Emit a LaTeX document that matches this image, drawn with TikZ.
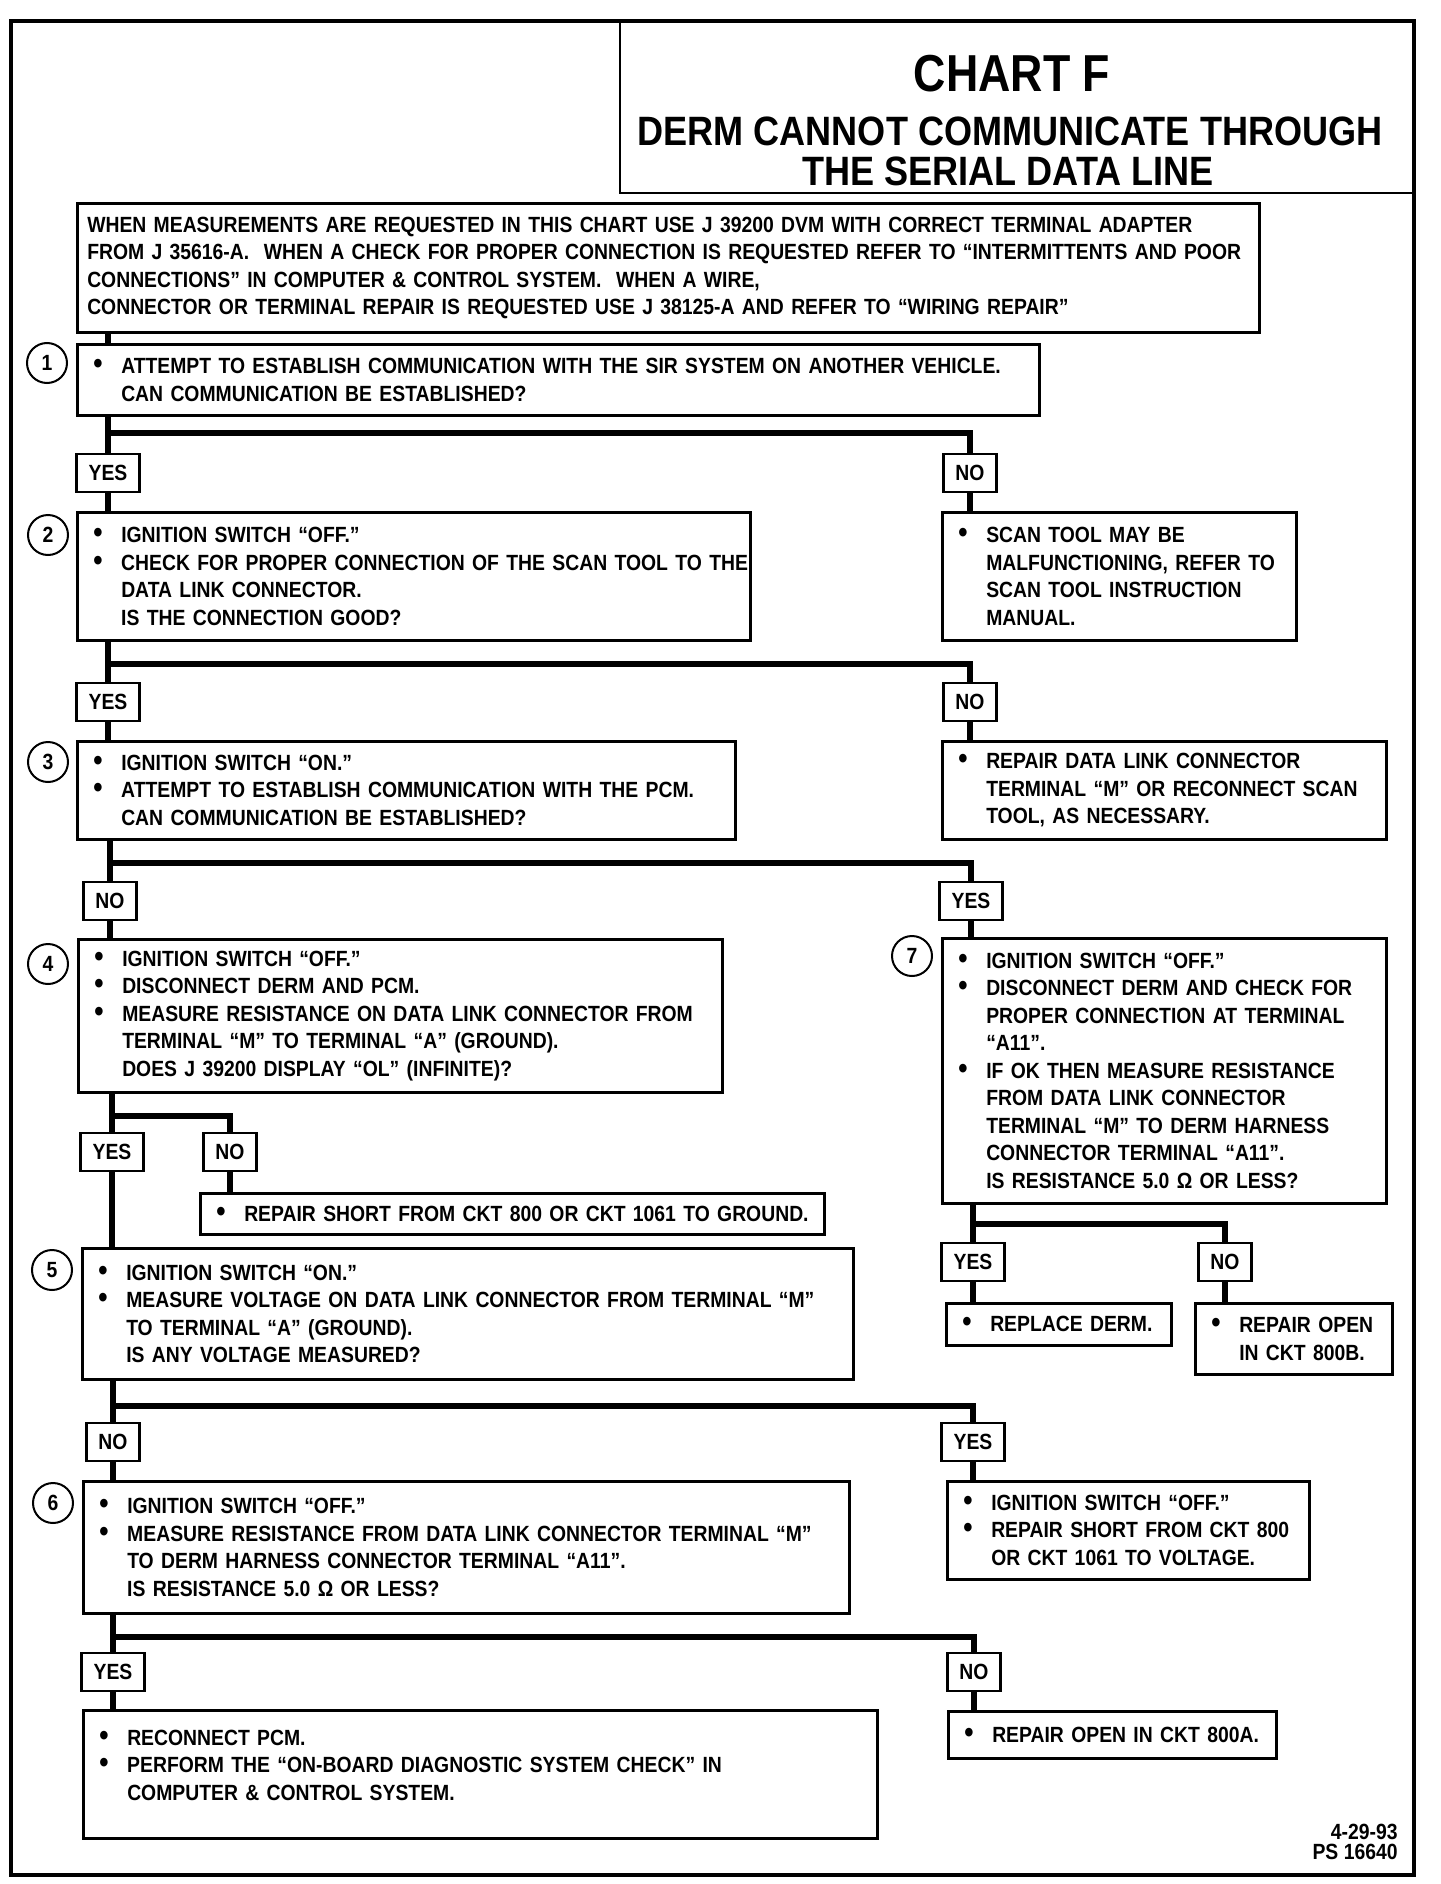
\documentclass[tikz,border=0pt]{standalone}
\usepackage{fontspec}
\newfontfamily\chartfont{Liberation Sans}[FakeStretch=0.88]
\newfontfamily\headfont{Liberation Sans}[FakeStretch=0.86]
\newcommand{\bl}[1]{\mbox{\makebox[14pt][l]{\fontsize{15}{15}\selectfont\textbullet}#1}}
\newcommand{\il}[1]{\mbox{\hspace*{14pt}#1}}
\begin{document}
\begin{tikzpicture}[x=0.5pt,y=-0.5pt,
  txt/.style={font=\chartfont\bfseries\fontsize{11}{13.75}\selectfont},
  box/.style={txt,draw,line width=1.25pt,anchor=north west,align=left,inner xsep=8pt,inner ysep=0pt},
  lbl/.style={txt,draw,line width=1.25pt,inner xsep=6pt,inner ysep=0pt,minimum height=19pt},
  num/.style={txt,draw,circle,line width=1pt,minimum size=20pt,inner sep=0pt},
  flow/.style={line width=3.2pt}]
\useasboundingbox (0,0) rectangle (1440,1884);
\draw[line width=2pt] (11,21) rectangle (1414,1875);
\draw[line width=1.2pt] (620,21) rectangle (1414,193);
\node[anchor=base,font=\headfont\bfseries\fontsize{26}{26}\selectfont] (chart) at (1012,91) {CHART F};
\node[anchor=base,font=\chartfont\bfseries\fontsize{20.5}{20.5}\selectfont] (sub1) at (1010,146) {DERM CANNOT COMMUNICATE THROUGH};
\node[anchor=base,font=\chartfont\bfseries\fontsize{20.5}{20.5}\selectfont] (sub2) at (1008,185) {THE SERIAL DATA LINE};

\node[box,inner xsep=5pt,text width=581pt,minimum height=64.5pt] (intro) at (76,202) {%
\mbox{WHEN MEASUREMENTS ARE REQUESTED IN THIS CHART USE J 39200 DVM WITH CORRECT TERMINAL ADAPTER}\\
\mbox{FROM J 35616-A.\ \ WHEN A CHECK FOR PROPER CONNECTION IS REQUESTED REFER TO “INTERMITTENTS AND POOR}\\
\mbox{CONNECTIONS” IN COMPUTER \& CONTROL SYSTEM.\ \ WHEN A WIRE,}\\
\mbox{CONNECTOR OR TERMINAL REPAIR IS REQUESTED USE J 38125-A AND REFER TO “WIRING REPAIR”}};

\node[box,text width=465pt,minimum height=35.5pt] (b1) at (76,343) {%
\bl{ATTEMPT TO ESTABLISH COMMUNICATION WITH THE SIR SYSTEM ON ANOTHER VEHICLE.}\\
\il{CAN COMMUNICATION BE ESTABLISHED?}};
\node[num] (c1) at (47,363) {1};
\node[lbl] (y1) at (108,473) {YES};
\node[lbl] (n1) at (970,473) {NO};
\coordinate (k1) at (108,433);

\node[box,text width=320.5pt,minimum height=64pt] (b2) at (76,511) {%
\bl{IGNITION SWITCH “OFF.”}\\
\bl{CHECK FOR PROPER CONNECTION OF THE SCAN TOOL TO THE}\\
\il{DATA LINK CONNECTOR.}\\
\il{IS THE CONNECTION GOOD?}};
\node[num] (c2) at (48,535) {2};
\node[box,text width=161pt,minimum height=64pt] (r2) at (941,511) {%
\bl{SCAN TOOL MAY BE}\\
\il{MALFUNCTIONING, REFER TO}\\
\il{SCAN TOOL INSTRUCTION}\\
\il{MANUAL.}};
\node[lbl] (y2) at (108,702) {YES};
\node[lbl] (n2) at (970,702) {NO};
\coordinate (k2) at (108,664);

\node[box,text width=313pt,minimum height=49pt] (b3) at (76,740) {%
\bl{IGNITION SWITCH “ON.”}\\
\bl{ATTEMPT TO ESTABLISH COMMUNICATION WITH THE PCM.}\\
\il{CAN COMMUNICATION BE ESTABLISHED?}};
\node[num] (c3) at (48,762) {3};
\node[box,text width=206pt,minimum height=49pt] (r3) at (941,740) {%
\bl{REPAIR DATA LINK CONNECTOR}\\
\il{TERMINAL “M” OR RECONNECT SCAN}\\
\il{TOOL, AS NECESSARY.}};
\node[lbl] (n3) at (110,901) {NO};
\node[lbl] (y3) at (971,901) {YES};
\coordinate (k3) at (110,863);

\node[box,text width=306pt,minimum height=76.5pt] (b4) at (77,938) {%
\bl{IGNITION SWITCH “OFF.”}\\
\bl{DISCONNECT DERM AND PCM.}\\
\bl{MEASURE RESISTANCE ON DATA LINK CONNECTOR FROM}\\
\il{TERMINAL “M” TO TERMINAL “A” (GROUND).}\\
\il{DOES J 39200 DISPLAY “OL” (INFINITE)?}};
\node[num] (c4) at (48,964) {4};
\node[box,text width=206pt,minimum height=132.5pt] (b7) at (941,937) {%
\bl{IGNITION SWITCH “OFF.”}\\
\bl{DISCONNECT DERM AND CHECK FOR}\\
\il{PROPER CONNECTION AT TERMINAL}\\
\il{“A11”.}\\
\bl{IF OK THEN MEASURE RESISTANCE}\\
\il{FROM DATA LINK CONNECTOR}\\
\il{TERMINAL “M” TO DERM HARNESS}\\
\il{CONNECTOR TERMINAL “A11”.}\\
\il{IS RESISTANCE 5.0 Ω OR LESS?}};
\node[num] (c7) at (912,956) {7};

\node[lbl] (y4) at (112,1152) {YES};
\node[lbl] (n4) at (230,1152) {NO};
\coordinate (k4) at (112,1116);
\node[box,text width=296pt,minimum height=20.5pt] (rs) at (199,1192) {%
\bl{REPAIR SHORT FROM CKT 800 OR CKT 1061 TO GROUND.}};

\node[lbl] (y7) at (973,1262) {YES};
\node[lbl] (n7) at (1225,1262) {NO};
\coordinate (k7) at (973,1224);
\node[box,text width=96.5pt,minimum height=21pt] (rd) at (945,1302) {%
\bl{REPLACE DERM.}};
\node[box,text width=82.5pt,minimum height=35.5pt] (ro) at (1194,1302) {%
\bl{REPAIR OPEN}\\
\il{IN CKT 800B.}};

\node[box,text width=369.5pt,minimum height=65.5pt] (b5) at (81,1247) {%
\bl{IGNITION SWITCH “ON.”}\\
\bl{MEASURE VOLTAGE ON DATA LINK CONNECTOR FROM TERMINAL “M”}\\
\il{TO TERMINAL “A” (GROUND).}\\
\il{IS ANY VOLTAGE MEASURED?}};
\node[num] (c5) at (52,1270) {5};
\node[lbl] (n5) at (113,1442) {NO};
\node[lbl] (y5) at (973,1442) {YES};
\coordinate (k5) at (113,1406);

\node[box,text width=367pt,minimum height=66pt] (b6) at (82,1480) {%
\bl{IGNITION SWITCH “OFF.”}\\
\bl{MEASURE RESISTANCE FROM DATA LINK CONNECTOR TERMINAL “M”}\\
\il{TO DERM HARNESS CONNECTOR TERMINAL “A11”.}\\
\il{IS RESISTANCE 5.0 Ω OR LESS?}};
\node[num] (c6) at (53,1503) {6};
\node[box,text width=165pt,minimum height=49pt] (r6) at (946,1480) {%
\bl{IGNITION SWITCH “OFF.”}\\
\bl{REPAIR SHORT FROM CKT 800}\\
\il{OR CKT 1061 TO VOLTAGE.}};
\node[lbl] (y6) at (113,1672) {YES};
\node[lbl] (n6) at (974,1672) {NO};
\coordinate (k6) at (113,1637);

\node[box,text width=381pt,minimum height=64pt] (bf) at (82,1709) {%
\bl{RECONNECT PCM.}\\
\bl{PERFORM THE “ON-BOARD DIAGNOSTIC SYSTEM CHECK” IN}\\
\il{COMPUTER \& CONTROL SYSTEM.}\rule[-9pt]{0pt}{0pt}};
\node[box,text width=148pt,minimum height=23.5pt] (r7) at (947,1710) {%
\bl{REPAIR OPEN IN CKT 800A.}};

\node[txt,anchor=base east,inner sep=0pt] (date) at (1398,1839) {4-29-93};
\node[txt,anchor=base east,inner sep=0pt] (ps) at (1398,1859) {PS 16640};

\draw[flow] (intro.south -| y1) -- (b1.north -| y1);
\draw[flow] (b1.south -| y1) -- (y1.north);
\draw[flow] (k1) -| (n1.north);
\draw[flow] (y1.south) -- (b2.north -| y1);
\draw[flow] (n1.south) -- (r2.north -| n1);
\draw[flow] (b2.south -| y2) -- (y2.north);
\draw[flow] (k2) -| (n2.north);
\draw[flow] (y2.south) -- (b3.north -| y2);
\draw[flow] (n2.south) -- (r3.north -| n2);
\draw[flow] (b3.south -| n3) -- (n3.north);
\draw[flow] (k3) -| (y3.north);
\draw[flow] (n3.south) -- (b4.north -| n3);
\draw[flow] (y3.south) -- (b7.north -| y3);
\draw[flow] (b4.south -| y4) -- (y4.north);
\draw[flow] (k4) -| (n4.north);
\draw[flow] (y4.south) -- (b5.north -| y4);
\draw[flow] (n4.south) -- (rs.north -| n4);
\draw[flow] (b7.south -| y7) -- (y7.north);
\draw[flow] (k7) -| (n7.north);
\draw[flow] (y7.south) -- (rd.north -| y7);
\draw[flow] (n7.south) -- (ro.north -| n7);
\draw[flow] (b5.south -| n5) -- (n5.north);
\draw[flow] (k5) -| (y5.north);
\draw[flow] (n5.south) -- (b6.north -| n5);
\draw[flow] (y5.south) -- (r6.north -| y5);
\draw[flow] (b6.south -| y6) -- (y6.north);
\draw[flow] (k6) -| (n6.north);
\draw[flow] (y6.south) -- (bf.north -| y6);
\draw[flow] (n6.south) -- (r7.north -| n6);
\end{tikzpicture}
\end{document}
